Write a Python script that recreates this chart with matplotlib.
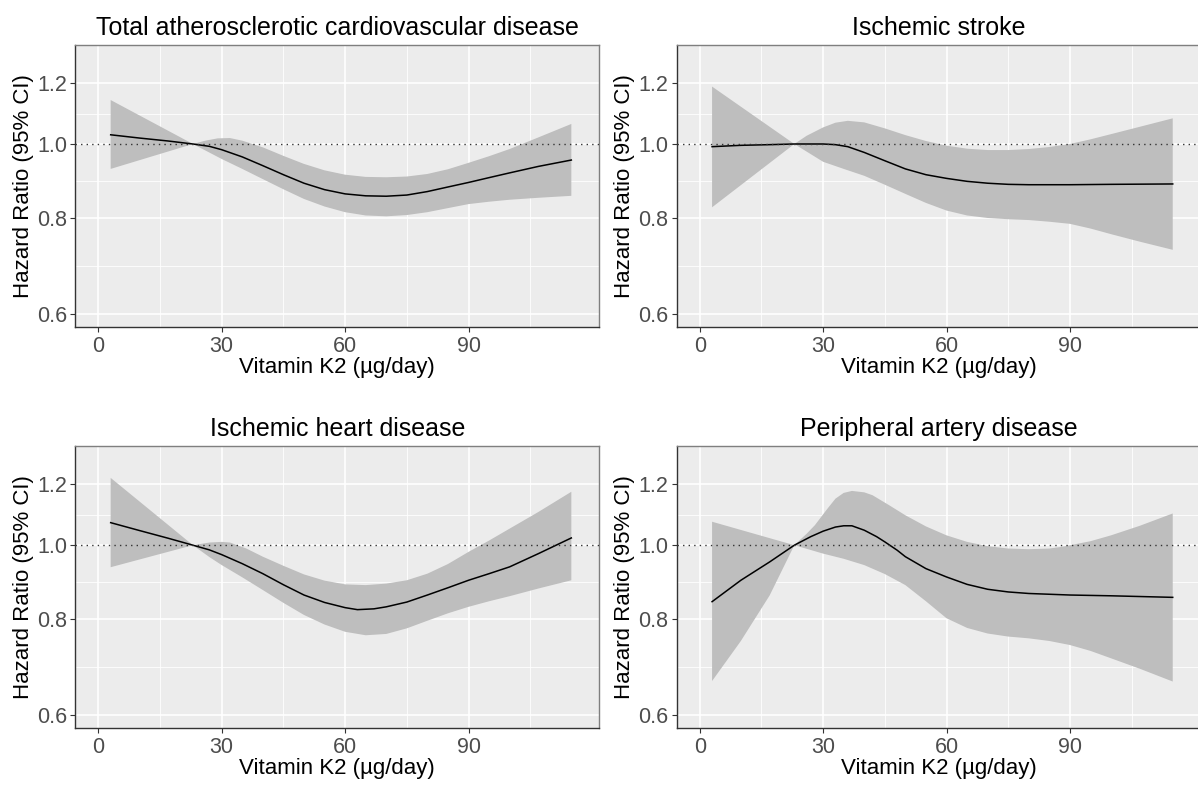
import numpy as np
import matplotlib
matplotlib.use("Agg")
import matplotlib.pyplot as plt
from matplotlib.ticker import FixedLocator, NullFormatter

plt.rcParams['font.family'] = ['Liberation Sans', 'DejaVu Sans']

# ---------------- data ----------------
titles = ["Total atherosclerotic cardiovascular disease", "Ischemic stroke",
          "Ischemic heart disease", "Peripheral artery disease"]

# Total ASCVD
x_ascvd = [3, 10, 17, 23, 27, 30, 35, 40, 45, 50, 55, 60, 65, 70, 75, 80, 85, 90, 95, 100, 107, 115]
hr_ascvd = [1.028, 1.018, 1.009, 1.0, 0.993, 0.983, 0.962, 0.937, 0.912, 0.889, 0.872, 0.861,
            0.856, 0.855, 0.858, 0.867, 0.879, 0.891, 0.904, 0.917, 0.935, 0.953]
xu_ascvd = [3, 23, 26, 29, 32, 35, 40, 45, 50, 55, 60, 65, 70, 75, 80, 85, 90, 95, 100, 107, 115]
up_ascvd = [1.141, 1.0, 1.010, 1.017, 1.018, 1.010, 0.99, 0.965, 0.942, 0.924, 0.912, 0.906,
            0.905, 0.907, 0.914, 0.927, 0.945, 0.964, 0.985, 1.02, 1.062]
xl_ascvd = [3, 23, 30, 35, 40, 45, 50, 55, 60, 65, 70, 75, 80, 85, 90, 95, 100, 107, 115]
lo_ascvd = [0.928, 1.0, 0.956, 0.928, 0.900, 0.873, 0.848, 0.829, 0.815, 0.807, 0.805, 0.808,
            0.815, 0.825, 0.835, 0.841, 0.846, 0.851, 0.856]

# Ischemic stroke
x_is = [3, 10, 17, 23, 30, 33, 36, 40, 45, 50, 55, 60, 65, 70, 75, 80, 90, 100, 115]
hr_is = [0.992, 0.996, 0.998, 1.0, 1.0, 0.998, 0.992, 0.975, 0.951, 0.928, 0.912, 0.902,
         0.894, 0.889, 0.886, 0.885, 0.885, 0.886, 0.887]
xu_is = [3, 23, 26, 30, 33, 36, 40, 45, 50, 55, 60, 65, 70, 75, 80, 85, 90, 95, 100, 107, 115]
up_is = [1.188, 1.0, 1.025, 1.051, 1.066, 1.072, 1.067, 1.048, 1.027, 1.009, 0.995, 0.986,
         0.982, 0.982, 0.985, 0.991, 1.0, 1.014, 1.03, 1.053, 1.080]
xl_is = [3, 23, 27, 30, 35, 40, 45, 50, 55, 60, 65, 70, 75, 80, 85, 90, 95, 100, 107, 115]
lo_is = [0.827, 1.0, 0.97, 0.948, 0.928, 0.909, 0.885, 0.861, 0.838, 0.819, 0.807, 0.801,
         0.798, 0.796, 0.792, 0.787, 0.776, 0.763, 0.746, 0.728]

# Ischemic heart disease
x_ihd = [3, 10, 17, 23, 27, 30, 35, 40, 45, 50, 55, 60, 63, 67, 70, 75, 80, 85, 90, 95, 100, 107, 115]
hr_ihd = [1.070, 1.045, 1.021, 1.0, 0.986, 0.972, 0.946, 0.918, 0.888, 0.861, 0.842, 0.829,
          0.824, 0.826, 0.831, 0.843, 0.861, 0.880, 0.900, 0.918, 0.937, 0.975, 1.022]
xu_ihd = [3, 23, 27, 30, 32, 36, 40, 45, 50, 55, 60, 65, 70, 75, 80, 85, 90, 95, 100, 107, 115]
up_ihd = [1.224, 1.0, 1.008, 1.010, 1.008, 0.990, 0.966, 0.940, 0.916, 0.899, 0.889, 0.887,
          0.891, 0.900, 0.918, 0.945, 0.980, 1.014, 1.051, 1.105, 1.174]
xl_ihd = [3, 23, 27, 30, 35, 40, 45, 50, 55, 60, 65, 70, 75, 80, 85, 90, 95, 100, 107, 115]
lo_ihd = [0.936, 1.0, 0.965, 0.942, 0.908, 0.874, 0.841, 0.811, 0.788, 0.771, 0.763, 0.766,
          0.779, 0.797, 0.815, 0.831, 0.845, 0.858, 0.878, 0.900]

# Peripheral artery disease
x_pad = [3, 10, 17, 23, 27, 30, 33, 35, 37, 40, 43, 45, 48, 50, 55, 60, 65, 70, 75, 80, 90, 100, 115]
hr_pad = [0.844, 0.900, 0.951, 1.0, 1.026, 1.043, 1.056, 1.060, 1.060, 1.046, 1.026, 1.010,
          0.985, 0.966, 0.932, 0.909, 0.889, 0.876, 0.869, 0.865, 0.861, 0.859, 0.855]
xu_pad = [3, 23, 26, 28, 31, 33, 35, 37, 40, 42, 46, 50, 55, 60, 65, 70, 75, 80, 85, 88, 95, 100, 107, 115]
up_pad = [1.073, 1.0, 1.035, 1.062, 1.115, 1.150, 1.170, 1.177, 1.172, 1.162, 1.128, 1.094,
          1.058, 1.030, 1.010, 0.997, 0.990, 0.988, 0.990, 0.995, 1.012, 1.030, 1.060, 1.100]
xl_pad = [3, 10, 17, 23, 30, 35, 40, 45, 50, 55, 60, 65, 70, 75, 80, 85, 90, 95, 100, 107, 115]
lo_pad = [0.665, 0.75, 0.86, 1.0, 0.975, 0.960, 0.942, 0.917, 0.887, 0.845, 0.803, 0.780,
          0.767, 0.760, 0.756, 0.750, 0.741, 0.728, 0.712, 0.690, 0.664]

panels = [
    (x_ascvd, hr_ascvd, xu_ascvd, up_ascvd, xl_ascvd, lo_ascvd),
    (x_is, hr_is, xu_is, up_is, xl_is, lo_is),
    (x_ihd, hr_ihd, xu_ihd, up_ihd, xl_ihd, lo_ihd),
    (x_pad, hr_pad, xu_pad, up_pad, xl_pad, lo_pad),
]

x_ticks = [0, 30, 60, 90]
y_ticks = [0.6, 0.8, 1.0, 1.2]
y_labels = ["0.6", "0.8", "1.0", "1.2"]

# ---------------- layout (pixels) ----------------
W, H = 1198, 786
boxes = [(75.3, 44.7, 599.3, 327.3), (676.7, 44.7, 1200.7, 327.3),
         (75.3, 446.0, 599.3, 728.3), (676.7, 446.0, 1200.7, 728.3)]

fig = plt.figure(figsize=(W / 100, H / 100), dpi=100)

for i, (title, data) in enumerate(zip(titles, panels)):
    l, t, r, b = boxes[i]
    ax = fig.add_axes([l / W, 1 - b / H, (r - l) / W, (b - t) / H])
    xc, hr, xu, up, xl, lo = data

    # ribbon: upper edge then lower edge reversed, as one polygon
    px = list(xu) + list(xl)[::-1]
    py = list(up) + list(lo)[::-1]
    ax.fill(px, py, color='#bebebe', lw=0, zorder=2)
    ax.plot(xc, hr, color='black', lw=1.1, zorder=3)
    ax.axhline(1.0, color='#333333', lw=1.0, ls=(0, (1, 3)), zorder=4)

    ax.set_yscale('log')
    ax.set_xlim(-5.6, 121.8)
    ax.set_ylim(0.577, 1.347)

    ax.xaxis.set_major_locator(FixedLocator(x_ticks))
    ax.xaxis.set_minor_locator(FixedLocator([15, 45, 75, 105]))
    ax.yaxis.set_major_locator(FixedLocator(y_ticks))
    ax.yaxis.set_minor_locator(FixedLocator([np.sqrt(0.6 * 0.8), np.sqrt(0.8 * 1.0), np.sqrt(1.0 * 1.2)]))
    ax.set_yticklabels(y_labels)
    ax.yaxis.set_minor_formatter(NullFormatter())

    ax.set_facecolor('#ececec')
    ax.set_axisbelow(True)
    ax.grid(True, which='major', color='white', lw=1.2)
    ax.grid(True, which='minor', color='white', lw=0.6)

    ax.tick_params(which='major', length=3.5, width=0.8, color='#333333',
                   labelsize=15.5, labelcolor='#4d4d4d', pad=2.5)
    ax.tick_params(which='minor', length=0)
    for side in ['top', 'right']:
        ax.spines[side].set_color('#7f7f7f')
        ax.spines[side].set_linewidth(1.0)
    for side in ['left', 'bottom']:
        ax.spines[side].set_color('#333333')
        ax.spines[side].set_linewidth(1.0)

    ax.set_title(title, fontsize=18, pad=7)
    ax.set_xlabel("Vitamin K2 (\u00b5g/day)", fontsize=16, labelpad=0)
    ax.set_ylabel("Hazard Ratio (95% CI)", fontsize=16, labelpad=2)

fig.savefig("out.png", dpi=100)
